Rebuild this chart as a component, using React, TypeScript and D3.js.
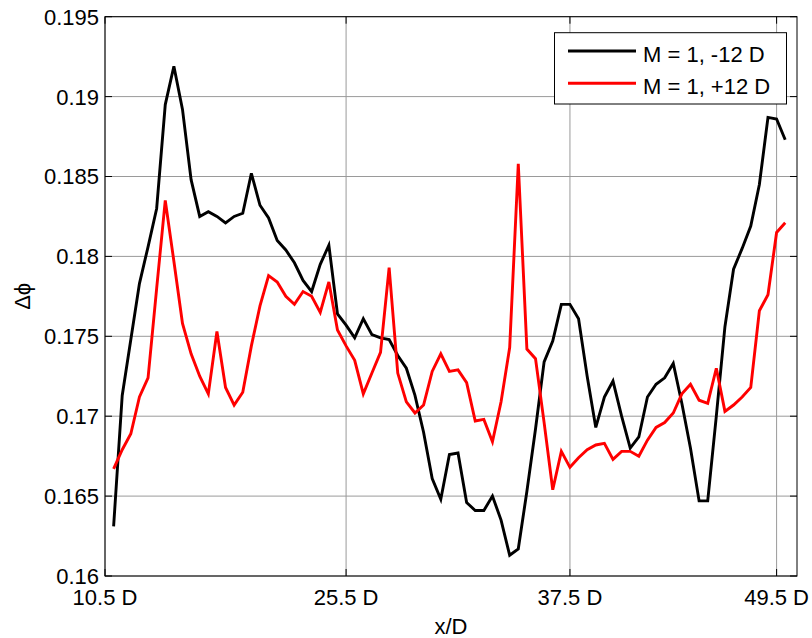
import React from "react";
import * as d3 from "d3";

const blackSeries: number[] = [
  0.1631, 0.1713, 0.1748, 0.1783, 0.1806, 0.1830, 0.1895, 0.1919, 0.1892, 0.1848,
  0.1825, 0.1828, 0.1825, 0.1821, 0.1825, 0.1827, 0.1852, 0.1832, 0.1824, 0.1810,
  0.1804, 0.1796, 0.1785, 0.1778, 0.1795, 0.1807, 0.1764, 0.1757, 0.1749, 0.1761,
  0.1751, 0.1749, 0.1748, 0.1738, 0.1730, 0.1713, 0.1690, 0.1661, 0.1648, 0.1676,
  0.1677, 0.1646, 0.1641, 0.1641, 0.1650, 0.1635, 0.1613, 0.1617, 0.1653, 0.1692,
  0.1734, 0.1747, 0.1770, 0.1770, 0.1761, 0.1725, 0.1693, 0.1712, 0.1722, 0.1700,
  0.1680, 0.1687, 0.1712, 0.1720, 0.1724, 0.1733, 0.1708, 0.1680, 0.1647, 0.1647,
  0.1700, 0.1756, 0.1792, 0.1805, 0.1819, 0.1845, 0.1887, 0.1886, 0.1873,
];

const redSeries: number[] = [
  0.1667, 0.1679, 0.1689, 0.1712, 0.1724, 0.1780, 0.1835, 0.1797, 0.1758, 0.1739,
  0.1725, 0.1714, 0.1753, 0.1718, 0.1707, 0.1715, 0.1744, 0.1769, 0.1788, 0.1784,
  0.1775, 0.1770, 0.1778, 0.1775, 0.1765, 0.1784, 0.1754, 0.1744, 0.1735, 0.1714,
  0.1727, 0.1740, 0.1793, 0.1727, 0.1709, 0.1702, 0.1707, 0.1728, 0.1739, 0.1728,
  0.1729, 0.1721, 0.1697, 0.1698, 0.1684, 0.1709, 0.1743, 0.1858, 0.1742, 0.1736,
  0.1696, 0.1654, 0.1678, 0.1668, 0.1674, 0.1679, 0.1682, 0.1683, 0.1673, 0.1678,
  0.1678, 0.1675, 0.1685, 0.1693, 0.1696, 0.1702, 0.1714, 0.1720, 0.1710, 0.1708,
  0.1730, 0.1703, 0.1707, 0.1712, 0.1718, 0.1766, 0.1776, 0.1815, 0.1821,
];

const seriesNames: string[] = ["M = 1, -12 D", "M = 1, +12 D"];
const seriesColors: string[] = ["#000000", "#ff0000"];

const xTickPositions: number[] = [-1, 27, 53, 77];
const xTickLabels: string[] = ["10.5 D", "25.5 D", "37.5 D", "49.5 D"];

const yTickValues: number[] = [0.16, 0.165, 0.17, 0.175, 0.18, 0.185, 0.19, 0.195];
const yTickLabels: string[] = ["0.16", "0.165", "0.17", "0.175", "0.18", "0.185", "0.19", "0.195"];

const W = 812;
const H = 638;
const L = 105;
const R = 797;
const T = 16.7;
const B = 576;
const FONT = "'Liberation Sans', Arial, Helvetica, sans-serif";

export default function App() {
  const x = d3.scaleLinear().domain([-1, 79.37]).range([L, R]);
  const y = d3.scaleLinear().domain([0.16, 0.195]).range([B, T]);
  const line = d3
    .line<number>()
    .x((_, i) => x(i))
    .y((d) => y(d));
  const series = [blackSeries, redSeries];
  const tickLen = 7;

  return (
    <svg
      width={W}
      height={H}
      style={{ position: "absolute", left: 0, top: 0, background: "#fff" }}
      fontFamily={FONT}
    >
      <rect x={0} y={0} width={W} height={H} fill="#fff" />
      {/* grid */}
      {yTickValues.map((v, i) => (
        <line key={"gy" + i} x1={L} x2={R} y1={y(v)} y2={y(v)} stroke="#9a9a9a" strokeWidth={1} />
      ))}
      {xTickPositions.map((p, i) => (
        <line key={"gx" + i} x1={x(p)} x2={x(p)} y1={T} y2={B} stroke="#9a9a9a" strokeWidth={1} />
      ))}
      {/* lines */}
      {series.map((s, k) => (
        <path
          key={"s" + k}
          d={line(s) || ""}
          fill="none"
          stroke={seriesColors[k]}
          strokeWidth={2.9}
          strokeLinejoin="miter"
        />
      ))}
      {/* axes box */}
      <rect x={L} y={T} width={R - L} height={B - T} fill="none" stroke="#000" strokeWidth={1} />
      {/* ticks */}
      {yTickValues.map((v, i) => (
        <g key={"ty" + i}>
          <line x1={L} x2={L + tickLen} y1={y(v)} y2={y(v)} stroke="#000" strokeWidth={1} />
          <line x1={R} x2={R - tickLen} y1={y(v)} y2={y(v)} stroke="#000" strokeWidth={1} />
          <text x={L - 6} y={y(v)} dy="0.36em" textAnchor="end" fontSize={22} fill="#000">
            {yTickLabels[i]}
          </text>
        </g>
      ))}
      {xTickPositions.map((p, i) => (
        <g key={"tx" + i}>
          <line x1={x(p)} x2={x(p)} y1={B} y2={B - tickLen} stroke="#000" strokeWidth={1} />
          <line x1={x(p)} x2={x(p)} y1={T} y2={T + tickLen} stroke="#000" strokeWidth={1} />
          <text x={x(p)} y={605} textAnchor="middle" fontSize={22} fill="#000">
            {xTickLabels[i]}
          </text>
        </g>
      ))}
      {/* axis labels */}
      <text x={(L + R) / 2} y={634} textAnchor="middle" fontSize={22} fill="#000">
        x/D
      </text>
      <text
        transform={`translate(30, ${(T + B) / 2}) rotate(-90)`}
        textAnchor="middle"
        fontSize={22}
        fill="#000"
      >
        Δϕ
      </text>
      {/* legend */}
      <rect x={554.5} y={32.7} width={232} height={71.3} fill="#fff" stroke="#000" strokeWidth={1} />
      {seriesNames.map((name, k) => (
        <g key={"lg" + k}>
          <line
            x1={568}
            x2={636}
            y1={51 + k * 32.3}
            y2={51 + k * 32.3}
            stroke={seriesColors[k]}
            strokeWidth={2.9}
          />
          <text x={643} y={61.5 + k * 32.3} fontSize={22} fill="#000">
            {name}
          </text>
        </g>
      ))}
    </svg>
  );
}
